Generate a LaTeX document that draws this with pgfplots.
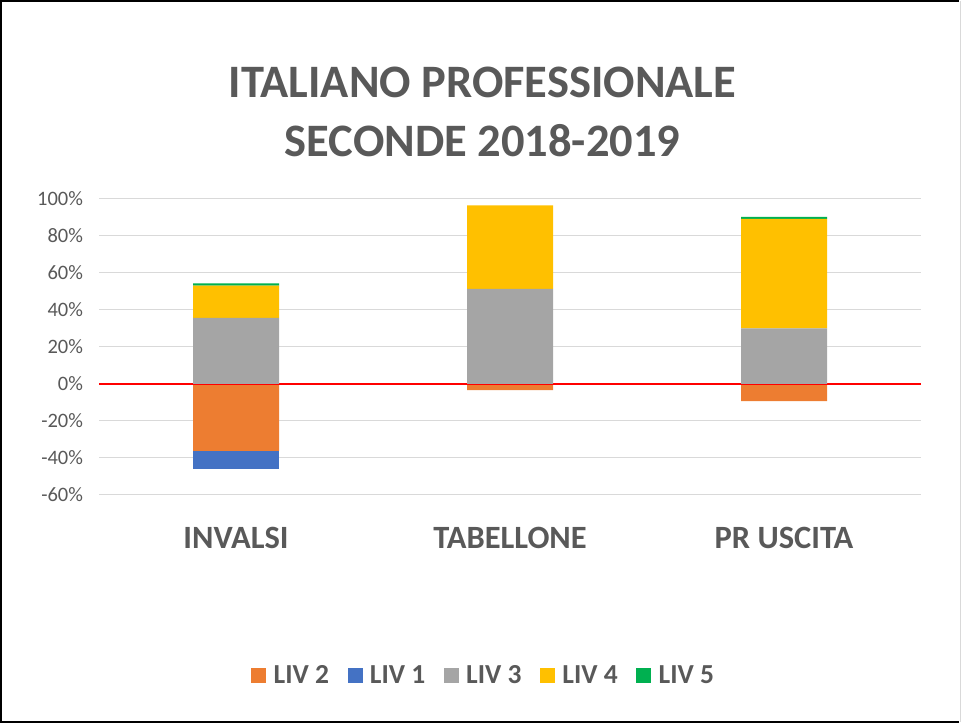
\documentclass[border=0pt]{standalone}
\usepackage{pgfplots}
\pgfplotsset{compat=1.18}
\usepackage{fontspec}
\setmainfont{Carlito}
\definecolor{cOrange}{HTML}{ED7D31}
\definecolor{cBlue}{HTML}{4472C4}
\definecolor{cGray}{HTML}{A5A5A5}
\definecolor{cYellow}{HTML}{FFC000}
\definecolor{cGreen}{HTML}{00B050}
\definecolor{cText}{HTML}{595959}
\definecolor{cGrid}{HTML}{D9D9D9}
\pgfplotsset{
  base/.style={at={(99bp,228bp)}, anchor=south west, scale only axis,
    width=822bp, height=296bp, xmin=-0.5, xmax=2.5, ymin=-60, ymax=100,
    ybar stacked, bar width=86bp, axis line style={draw=none}, tick style={draw=none}},
  sq/.style={legend image code/.code={\fill[#1] (0bp,-7bp) rectangle (14bp,7bp);}}
}
\begin{document}
\begin{tikzpicture}
\path[use as bounding box] (0,0) rectangle (961bp,723bp);
% negative stack, grid and ticks
\begin{axis}[base,
  ymajorgrids, major grid style={color=cGrid, line width=1bp},
  ytick={-60,-40,-20,0,20,40,60,80,100},
  yticklabels={-60\%,-40\%,-20\%,0\%,20\%,40\%,60\%,80\%,100\%},
  yticklabel style={font=\fontsize{20.5bp}{24bp}\selectfont, text=cText, anchor=east, xshift=-12.5bp},
  xtick={0,1,2},
  xticklabels={INVALSI,TABELLONE,PR USCITA},
  xticklabel style={font=\fontsize{32.5bp}{38bp}\selectfont\bfseries, text=cText, anchor=base, yshift=-54bp},
]
\addplot[fill=cOrange, draw=none] coordinates {(0,-36.2) (1,-3.3) (2,-9.2)};
\addplot[fill=cBlue, draw=none] coordinates {(0,-9.8) (1,0) (2,0)};
\end{axis}
% positive stack and legend
\begin{axis}[base, ytick=\empty, xtick=\empty,
  legend columns=5,
  legend style={draw=none, fill=none, at={(0.468,-0.608)}, anchor=center,
    font=\fontsize{27.5bp}{32bp}\selectfont\bfseries, text=cText,
    /tikz/every odd column/.append style={column sep=6bp},
    /tikz/every even column/.append style={column sep=16.5bp}},
]
\addlegendimage{sq=cOrange}\addlegendentry{LIV 2}
\addlegendimage{sq=cBlue}\addlegendentry{LIV 1}
\addlegendimage{sq=cGray}\addlegendentry{LIV 3}
\addlegendimage{sq=cYellow}\addlegendentry{LIV 4}
\addlegendimage{sq=cGreen}\addlegendentry{LIV 5}
\addplot[fill=cGray, draw=none, forget plot] coordinates {(0,35.8) (1,51.4) (2,30.1)};
\addplot[fill=cYellow, draw=none, forget plot] coordinates {(0,17.4) (1,45.2) (2,59.1)};
\addplot[fill=cGreen, draw=none, forget plot] coordinates {(0,1.2) (1,0) (2,1.2)};
\draw[red, line width=2.5bp] (axis cs:-0.5,0) -- (axis cs:2.5,0);
\end{axis}
\node[anchor=base, text=cText, font=\fontsize{46.5bp}{55bp}\selectfont\bfseries] at (482.5bp,625bp) {ITALIANO PROFESSIONALE};
\node[anchor=base, text=cText, font=\fontsize{46.5bp}{55bp}\selectfont\bfseries] at (482.5bp,566bp) {SECONDE 2018-2019};
\draw[black, line width=2bp] (959bp,1bp) -- (1bp,1bp) -- (1bp,722bp) -- (959bp,722bp);
\draw[cGrid, line width=1bp] (960bp,1bp) -- (960bp,722bp);
\end{tikzpicture}
\end{document}
